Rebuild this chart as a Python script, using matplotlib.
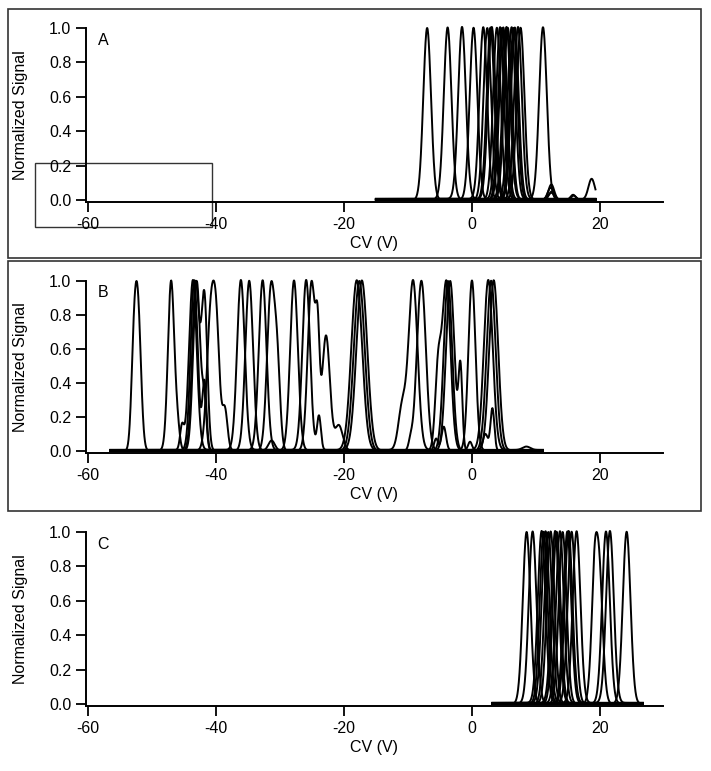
import numpy as np
import matplotlib
matplotlib.use("Agg")
import matplotlib.pyplot as plt
from matplotlib.patches import Rectangle

plt.rcParams["font.family"] = ["Liberation Sans", "DejaVu Sans"]
plt.rcParams["axes.unicode_minus"] = False

# ---- data ----------------------------------------------------------------
# each trace is a list of (centre CV, relative height, width) peak components;
# every trace is normalised to a maximum of 1

# panel A : x range of the traces, main peak centres, extra small bumps
a_range = (-15.0, 19.3)
a_centers = [-7.0, -3.8, -1.55, 0.25, 1.77, 2.4, 2.9, 3.1, 3.9, 4.4, 4.7, 4.9,
             5.4, 5.6, 6.2, 6.5, 6.7, 7.2, 7.6, 11.1]
a_width = 0.6
a_bumps = {
    5: [(12.4, 0.09, 0.45)],
    8: [(12.3, 0.07, 0.45)],
    10: [(12.5, 0.05, 0.45), (15.8, 0.03, 0.4)],
    13: [(12.4, 0.04, 0.5)],
    15: [(15.9, 0.025, 0.4)],
    16: [(18.7, 0.12, 0.5)],
}

# panel B : traces with shoulders / secondary peaks
b_range = (-56.5, 11.1)
b_traces = [
    [(-52.2, 1.0, 0.48), (-52.85, 0.55, 0.40)],
    [(-47.0, 1.0, 0.50), (-46.0, 0.12, 0.35)],
    [(-43.6, 1.0, 0.60), (-45.3, 0.14, 0.30)],
    [(-43.15, 1.0, 0.55), (-41.8, 0.90, 0.45)],
    [(-43.4, 1.0, 0.55), (-41.8, 0.40, 0.32)],
    [(-43.0, 1.0, 0.55), (-41.8, 0.27, 0.32)],
    [(-40.8, 1.0, 0.60), (-39.9, 0.75, 0.50), (-38.6, 0.30, 0.40)],
    [(-36.1, 1.0, 0.60)],
    [(-34.8, 1.0, 0.60), (-31.3, 0.06, 0.50)],
    [(-32.7, 1.0, 0.60)],
    [(-31.4, 1.0, 0.60), (-30.4, 0.45, 0.45)],
    [(-27.8, 1.0, 0.60)],
    [(-25.9, 1.0, 0.60), (-23.9, 0.20, 0.30)],
    [(-25.05, 1.0, 0.60), (-24.1, 0.50, 0.30), (-22.8, 0.68, 0.60),
     (-20.8, 0.15, 0.60)],
    [(-18.0, 1.0, 0.85)],
    [(-17.6, 1.0, 0.85)],
    [(-17.2, 1.0, 0.85)],
    [(-9.2, 1.0, 0.70), (-10.9, 0.25, 0.60)],
    [(-7.9, 1.0, 0.70), (-9.6, 0.05, 0.30)],
    [(-4.0, 1.0, 0.65), (-5.3, 0.45, 0.45)],
    [(-3.4, 1.0, 0.65), (-1.8, 0.48, 0.30)],
    [(0.0, 1.0, 0.55), (-4.4, 0.14, 0.35), (-5.6, 0.07, 0.30)],
    [(2.55, 1.0, 0.70), (8.5, 0.02, 0.60)],
    [(3.0, 1.0, 0.70)],
    [(3.4, 1.0, 0.70), (-0.3, 0.05, 0.30)],
    [(-3.75, 1.0, 0.65), (2.1, 0.10, 0.40), (3.2, 0.25, 0.30)],
]

# panel C : main peak centres, one trace with a left shoulder
c_range = (3.2, 26.7)
c_centers = [8.54, 9.48, 10.89, 11.2, 11.5, 11.93, 12.3, 13.0, 13.23, 13.75,
             14.17, 14.9, 15.1, 15.57, 16.35, 19.74, 20.94, 21.56, 24.17]
c_width = 0.6
c_bumps = {15: [(18.6, 0.15, 0.40), (19.1, 0.35, 0.35)]}

base_offsets = [0.0, 0.003, 0.006, 0.0015, 0.0045]

x_ticks = [-60, -40, -20, 0, 20]
y_ticks = [0.0, 0.2, 0.4, 0.6, 0.8, 1.0]
panel_names = ["A", "B", "C"]

# ---- helpers -------------------------------------------------------------
W, H = 711, 771


def rect(left, top, right, bottom):
    return [left / W, 1 - bottom / H, (right - left) / W, (bottom - top) / H]


def trace(xs, comps):
    y = np.zeros_like(xs)
    for c, h, w in comps:
        y += h * np.exp(-0.5 * ((xs - c) / w) ** 2)
    return y / y.max()


def style_axes(ax, name):
    ax.set_xlim(-60.3, 29.85)
    ax.set_ylim(-0.012, 1.0)
    ax.spines[["top", "right"]].set_visible(False)
    for s in ("left", "bottom"):
        ax.spines[s].set_linewidth(1.4)
    ax.set_xticks(x_ticks)
    ax.set_yticks(y_ticks)
    ax.set_yticklabels([f"{v:.1f}" for v in y_ticks])
    ax.tick_params(direction="out", length=7.5, width=1.3, labelsize=11.5, pad=3)
    ax.set_xlabel("CV (V)", fontsize=11.5, labelpad=3)
    ax.set_ylabel("Normalized Signal", fontsize=11.5)
    ax.yaxis.set_label_coords(-0.1, 0.5)
    ax.text(-58.5, 0.93, name, fontsize=11.5, ha="left", va="center")


fig = plt.figure(figsize=(7.11, 7.71), dpi=100)
axA = fig.add_axes(rect(86, 28, 663, 202))
axB = fig.add_axes(rect(86, 281, 663, 453))
axC = fig.add_axes(rect(86, 532, 663, 706))

lw = 1.4

# panel A
xa = np.linspace(*a_range, 900)
for i, c in enumerate(a_centers):
    comps = [(c, 1.0, a_width)] + a_bumps.get(i, [])
    axA.plot(xa, trace(xa, comps) + base_offsets[i % len(base_offsets)],
             color="black", lw=lw, clip_on=False)

# panel B
xb = np.linspace(*b_range, 1500)
for i, comps in enumerate(b_traces):
    axB.plot(xb, trace(xb, comps) + base_offsets[i % len(base_offsets)],
             color="black", lw=lw, clip_on=False)

# panel C
xc = np.linspace(*c_range, 800)
for i, c in enumerate(c_centers):
    comps = [(c, 1.0, c_width)] + c_bumps.get(i, [])
    axC.plot(xc, trace(xc, comps) + base_offsets[i % len(base_offsets)],
             color="black", lw=lw, clip_on=False)

for ax, name in zip((axA, axB, axC), panel_names):
    style_axes(ax, name)

# zoom box drawn in panel A
axA.add_patch(Rectangle((-68.3, -0.157), 27.7, 0.372, fill=False,
                        ec="#333333", lw=1.0, clip_on=False))

# frames around panels A and B
for top, bottom in ((9, 258), (261, 511)):
    fig.add_artist(Rectangle((8 / W, 1 - bottom / H), 693 / W, (bottom - top) / H,
                             transform=fig.transFigure, fill=False,
                             ec="#333333", lw=1.2))

fig.savefig("out.png", dpi=100)
